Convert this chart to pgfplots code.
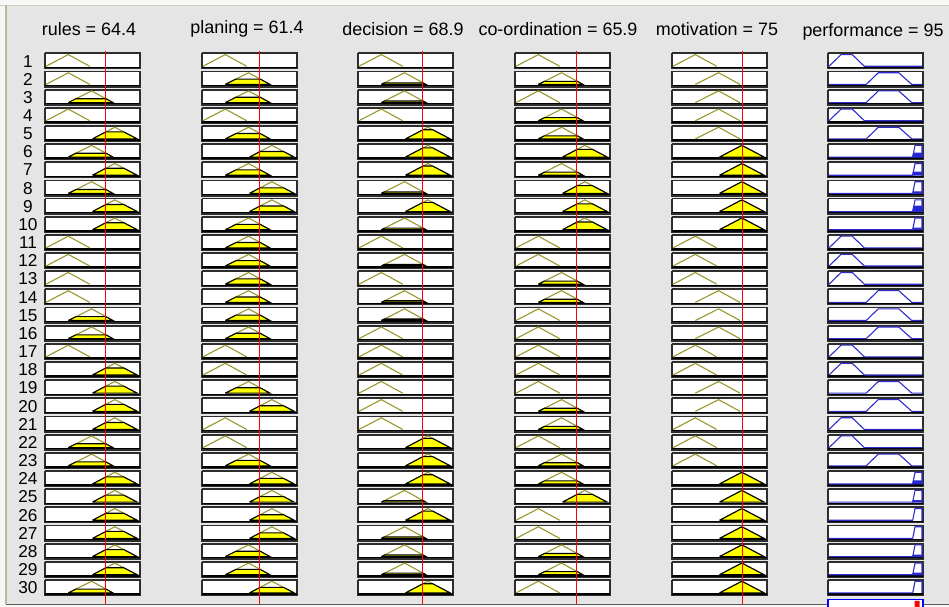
\documentclass[border=0pt]{standalone}
\usepackage{pgfplots}
\pgfplotsset{compat=1.18}
\usepackage{fontspec}
\setmainfont{Liberation Sans}
\definecolor{bgc}{RGB}{229,229,229}
\definecolor{mfc}{RGB}{155,150,45}
\definecolor{outc}{RGB}{45,45,205}
\definecolor{outf}{RGB}{35,35,215}
\definecolor{yel}{RGB}{255,255,0}
\definecolor{frm}{RGB}{45,45,45}
\def\px{0.2845pt}
\tikzset{ttl/.style={font=\fontsize{5.1pt}{6pt}\selectfont, inner sep=0pt},
         num/.style={font=\fontsize{4.9pt}{5pt}\selectfont, inner sep=0pt}}
% input membership functions (triangles, 0-100): low, medium, high
\def\Pa{{0,24,50}}
\def\Pb{{24,49,74}}
\def\Pc{{47,72,98}}
% output membership functions (trapezoids): low, medium, high
\def\Qa{{0,40,90}}
\def\Qb{{13,53,92.5}}
\def\Qc{{25,75,100}}
\def\Qd{{38,89,100}}
% input values
\def\Vin{{64.4,61.4,68.9,65.9,75}}
\def\Left{{45,202,358,515,672,828}}
\gdef\Boxes{}
\gdef\Bottoms{}
\gdef\MFs{}
\gdef\Fills{}
\gdef\OutMFs{}
\gdef\OutFills{}
\gdef\Reds{}
\gdef\Nums{}
% rule / rules planing decision coordination motivation / performance  (1=low,2=medium,3=high)
\foreach \r/\ma/\mb/\mc/\md/\me/\mo in {
1/1/1/1/1/1/1,
2/1/2/2/2/2/2,
3/2/2/2/1/2/2,
4/1/1/1/2/2/1,
5/3/2/3/2/2/2,
6/2/3/3/3/3/3,
7/3/2/3/2/3/3,
8/2/3/2/3/3/3,
9/3/3/3/3/3/3,
10/3/2/2/3/3/3,
11/1/2/1/1/1/1,
12/1/2/2/1/1/1,
13/1/2/1/2/1/1,
14/1/2/2/2/2/2,
15/2/2/2/1/2/2,
16/2/2/1/1/2/2,
17/1/1/1/1/1/1,
18/3/1/1/1/1/1,
19/3/2/1/1/2/2,
20/3/3/1/2/2/2,
21/3/1/1/2/1/1,
22/2/1/3/1/1/1,
23/2/2/3/2/1/2,
24/3/3/3/2/3/3,
25/3/3/2/3/3/3,
26/3/3/3/1/3/3,
27/3/3/2/1/3/3,
28/3/2/2/2/3/3,
29/3/2/2/2/3/3,
30/2/3/3/1/3/3}{%
  \pgfmathsetmacro\tp{53.3+(\r-1)*18.16}%
  \pgfmathsetmacro\bs{\tp+13}%
  \pgfmathsetmacro\pk{\tp+1.3}%
  \pgfmathsetmacro\bt{\tp+15.2}%
  \pgfmathsetmacro\bb{\tp+14.1}%
  \pgfmathsetmacro\ny{\tp+7.8}%
  \xdef\Nums{\unexpanded\expandafter{\Nums}\noexpand\node[num] at (axis cs:28,\ny) {\r};}%
  \xdef\w{1}%
  \foreach \i in {0,...,5}{%
    \pgfmathsetmacro\lx{\Left[\i]-0.3}%
    \pgfmathsetmacro\rx{\lx+95.6}%
    \xdef\Boxes{\Boxes (\lx,\tp) (\rx,\tp) (\rx,\bt) (\lx,\bt) (\lx,\tp) (nan,nan)}%
    \xdef\Bottoms{\Bottoms (\lx,\bb) (\rx,\bb) (nan,nan)}%
  }%
  \foreach \i/\m in {0/\ma,1/\mb,2/\mc,3/\md,4/\me}{%
    \pgfmathsetmacro\lx{\Left[\i]+1}%
    \pgfmathsetmacro\pa{\Pa[\m-1]}%
    \pgfmathsetmacro\pb{\Pb[\m-1]}%
    \pgfmathsetmacro\pc{\Pc[\m-1]}%
    \pgfmathsetmacro\vv{\Vin[\i]}%
    \pgfmathsetmacro\dg{max(0,min((\vv-\pa)/(\pb-\pa),(\pc-\vv)/(\pc-\pb)))}%
    \pgfmathsetmacro\xa{\lx+0.93*\pa}%
    \pgfmathsetmacro\xb{\lx+0.93*\pb}%
    \pgfmathsetmacro\xc{\lx+0.93*\pc}%
    \xdef\MFs{\MFs (\xa,\bs) (\xb,\pk) (\xc,\bs) (nan,nan)}%
    \ifdim\dg pt>0.001pt
      \pgfmathsetmacro\xl{\xa+\dg*(\xb-\xa)}%
      \pgfmathsetmacro\xr{\xc-\dg*(\xc-\xb)}%
      \pgfmathsetmacro\yd{\bs-\dg*(\bs-\pk)}%
      \xdef\Fills{\Fills (\xa,\bs) (\xl,\yd) (\xr,\yd) (\xc,\bs) (\xa,\bs) (nan,nan)}%
    \fi
    \pgfmathsetmacro\wn{min(\w,\dg)}%
    \xdef\w{\wn}%
  }%
  \pgfmathsetmacro\lx{\Left[5]+1}%
  \pgfmathsetmacro\qa{\Qa[\mo-1]}\pgfmathsetmacro\qa{\lx+0.93*\qa}%
  \pgfmathsetmacro\qb{\Qb[\mo-1]}\pgfmathsetmacro\qb{\lx+0.93*\qb}%
  \pgfmathsetmacro\qc{\Qc[\mo-1]}\pgfmathsetmacro\qc{\lx+0.93*\qc}%
  \pgfmathsetmacro\qd{\Qd[\mo-1]}\pgfmathsetmacro\qd{\lx+0.93*\qd}%
  \pgfmathsetmacro\xe{\lx+93}%
  \xdef\OutMFs{\OutMFs (\lx,\bs) (\qa,\bs) (\qb,\pk) (\qc,\pk) (\qd,\bs) (\xe,\bs) (nan,nan)}%
  \ifdim\w pt>0.001pt
    \pgfmathsetmacro\xl{\qa+\w*(\qb-\qa)}%
    \pgfmathsetmacro\xr{\qd-\w*(\qd-\qc)}%
    \pgfmathsetmacro\yd{\bs-\w*(\bs-\pk)}%
    \xdef\OutFills{\OutFills (\qa,\bs) (\xl,\yd) (\xr,\yd) (\qd,\bs) (\qa,\bs) (nan,nan)}%
  \fi
}
\foreach \i in {0,...,4}{%
  \pgfmathsetmacro\lx{\Left[\i]+1}%
  \pgfmathsetmacro\vv{\Vin[\i]}%
  \pgfmathsetmacro\xx{floor(\lx+0.93*\vv-0.4)+0.5}%
  \xdef\Reds{\Reds (\xx,51.5) (\xx,604) (nan,nan)}%
}
\begin{document}
\begin{tikzpicture}
\begin{axis}[
  scale only axis, width=9.49cm, height=6.07cm,
  xmin=0, xmax=949, ymin=0, ymax=607, y dir=reverse,
  hide axis, clip=true, unbounded coords=jump,
]
\addplot[fill=bgc, draw=none] coordinates {(0,0) (949,0) (949,607) (0,607) (0,0)};
\addplot[fill=white!94!gray, draw=none] coordinates {(0,0) (949,0) (949,5) (0,5) (0,0)};
\addplot[fill=white!94!gray, draw=none] coordinates {(0,0) (5.5,0) (5.5,607) (0,607) (0,0)};
\addplot[draw={rgb,255:red,210;green,205;blue,190}, line width=1.5*\px] coordinates {(0,5.5) (949,5.5)};
\addplot[draw={rgb,255:red,175;green,190;blue,150}, line width=1.5*\px] coordinates {(6,5.5) (6,607)};
\edef\temp{\noexpand\addplot[fill=white, draw=frm, line width=1.8*\px] coordinates {\Boxes};}\temp
\edef\temp{\noexpand\addplot[draw=black, line width=1.4*\px] coordinates {\Bottoms};}\temp
\edef\temp{\noexpand\addplot[draw=mfc, line width=1.1*\px] coordinates {\MFs};}\temp
\edef\temp{\noexpand\addplot[fill=yel, draw=black, line width=1.1*\px] coordinates {\Fills};}\temp
\edef\temp{\noexpand\addplot[draw=outc, line width=1.1*\px] coordinates {\OutMFs};}\temp
\edef\temp{\noexpand\addplot[fill=outf, draw=outc, line width=\px] coordinates {\OutFills};}\temp
\edef\temp{\noexpand\addplot[draw=red, line width=1.6*\px] coordinates {\Reds};}\temp
\addplot[fill=white!94!gray, draw=none] coordinates {(0,604) (949,604) (949,607) (0,607) (0,604)};
\addplot[draw=gray!70!black, line width=1.5*\px] coordinates {(6,604.6) (949,604.6)};
\addplot[fill=white, draw=blue, line width=1.6*\px] coordinates {(828,599.5) (923,599.5) (923,615) (828,615) (828,599.5)};
\addplot[fill=red, draw=none] coordinates {(914.5,601) (919.5,601) (919.5,607) (914.5,607) (914.5,601)};
\node[ttl] at (axis cs:89,29) {rules = 64.4};
\node[ttl] at (axis cs:247,29) {planing = 61.4};
\node[ttl] at (axis cs:403,29) {decision = 68.9};
\node[ttl] at (axis cs:558,29) {co-ordination = 65.9};
\node[ttl] at (axis cs:717,29) {motivation = 75};
\node[ttl] at (axis cs:873,32) {performance = 95};
\Nums
\end{axis}
\end{tikzpicture}
\end{document}
